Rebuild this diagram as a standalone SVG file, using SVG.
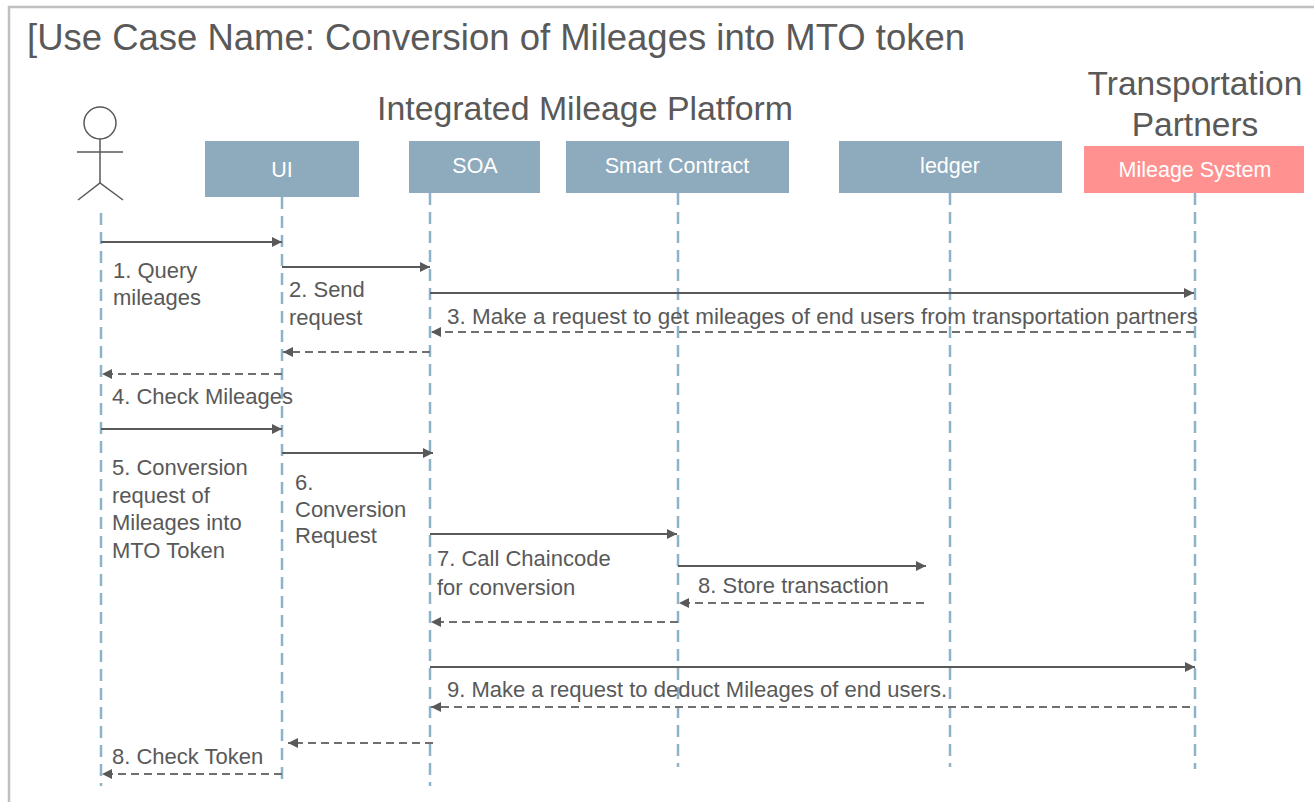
<svg xmlns="http://www.w3.org/2000/svg" width="1314" height="802" viewBox="0 0 1314 802">
<defs>
<style>
.t{font-family:"Liberation Sans",Arial,sans-serif;fill:#595959}
.lbl{font-size:22px}
.box{fill:#8EAABD}
.boxr{fill:#FF9191}
.bt{font-family:"Liberation Sans",Arial,sans-serif;font-size:21.5px;fill:#ffffff;text-anchor:middle}
.life{stroke:#8DB3C9;stroke-width:2.5;stroke-dasharray:12 7;fill:none}
.msg{stroke:#595959;stroke-width:2;fill:none;marker-end:url(#ah)}
.ret{stroke:#6f6f6f;stroke-width:2;stroke-dasharray:8 5;fill:none;marker-end:url(#ah)}
</style>
<marker id="ah" viewBox="0 0 10 10" refX="10" refY="5" markerWidth="11" markerHeight="10" markerUnits="userSpaceOnUse" orient="auto">
<path d="M0,0 L10,5 L0,10 z" fill="#595959"/>
</marker>
</defs>
<rect x="0" y="0" width="1314" height="802" fill="#ffffff"/>
<rect x="9" y="7" width="1330" height="820" fill="none" stroke="#c0c0c0" stroke-width="2.5"/>
<text class="t" x="27" y="50" font-size="36.5" textLength="938" lengthAdjust="spacingAndGlyphs">[Use Case Name: Conversion of Mileages into MTO token</text>
<text class="t" x="377" y="120" font-size="33.5" textLength="416" lengthAdjust="spacingAndGlyphs">Integrated Mileage Platform</text>
<text class="t" x="1195" y="95" font-size="33.5" text-anchor="middle">Transportation</text>
<text class="t" x="1195" y="136" font-size="33.5" text-anchor="middle">Partners</text>

<g id="actor">
<circle cx="100" cy="123" r="16" fill="none" stroke="#595959" stroke-width="1.5"/>
<line x1="100" y1="139" x2="100" y2="183" stroke="#595959" stroke-width="1.5"/>
<line x1="77" y1="152" x2="123" y2="152" stroke="#595959" stroke-width="1.5"/>
<path d="M78,200 L100,183 L123,200" fill="none" stroke="#595959" stroke-width="1.5"/>
<line class="life" x1="101" y1="213" x2="101" y2="786"/>
</g>
<g id="ui">
<rect class="box" x="205" y="141" width="154" height="56"/>
<text class="bt" x="282" y="177">UI</text>
<line class="life" x1="282" y1="197" x2="282" y2="786"/>
</g>
<g id="soa">
<rect class="box" x="409" y="141" width="131" height="52"/>
<text class="bt" x="475" y="173">SOA</text>
<line class="life" x1="430" y1="193" x2="430" y2="786"/>
</g>
<g id="smart-contract">
<rect class="box" x="566" y="141" width="223" height="52"/>
<text class="bt" x="677" y="173">Smart Contract</text>
<line class="life" x1="678" y1="193" x2="678" y2="767"/>
</g>
<g id="ledger">
<rect class="box" x="839" y="141" width="223" height="52"/>
<text class="bt" x="950" y="173">ledger</text>
<line class="life" x1="950" y1="193" x2="950" y2="767"/>
</g>
<g id="mileage-system">
<rect class="boxr" x="1084" y="146" width="220" height="47"/>
<text class="bt" x="1195" y="177">Mileage System</text>
<line class="life" x1="1195" y1="193" x2="1195" y2="769"/>
</g>

<g id="connectors">
<line class="msg" x1="101" y1="242" x2="282" y2="242"/>
<line class="msg" x1="282" y1="267" x2="430" y2="267"/>
<line class="msg" x1="430" y1="293" x2="1194" y2="293"/>
<line class="ret" x1="1194" y1="332" x2="431" y2="332"/>
<line class="ret" x1="430" y1="352" x2="283" y2="352"/>
<line class="ret" x1="282" y1="374" x2="102" y2="374"/>
<line class="msg" x1="101" y1="429" x2="282" y2="429"/>
<line class="msg" x1="282" y1="453" x2="433" y2="453"/>
<line class="msg" x1="430" y1="534" x2="677" y2="534"/>
<line class="msg" x1="678" y1="566" x2="926" y2="566"/>
<line class="ret" x1="924" y1="603" x2="679" y2="603"/>
<line class="ret" x1="678" y1="622" x2="431" y2="622"/>
<line class="msg" x1="430" y1="667" x2="1195" y2="667"/>
<line class="ret" x1="1190" y1="707" x2="431" y2="707"/>
<line class="ret" x1="433" y1="743" x2="288" y2="743"/>
<line class="ret" x1="282" y1="774" x2="102" y2="774"/>
</g>

<g id="labels" class="t lbl">
<text x="113" y="278">1. Query</text>
<text x="113" y="305">mileages</text>
<text x="289" y="297">2. Send</text>
<text x="289" y="325">request</text>
<text x="447" y="324" textLength="751" lengthAdjust="spacingAndGlyphs">3. Make a request to get mileages of end users from transportation partners</text>
<text x="112" y="404">4. Check Mileages</text>
<text x="112" y="475">5. Conversion</text>
<text x="112" y="503">request of</text>
<text x="112" y="530">Mileages into</text>
<text x="112" y="558">MTO Token</text>
<text x="295" y="490">6.</text>
<text x="295" y="517">Conversion</text>
<text x="295" y="543">Request</text>
<text x="437" y="566">7. Call Chaincode</text>
<text x="437" y="595">for conversion</text>
<text x="698" y="593">8. Store transaction</text>
<text x="447" y="697">9. Make a request to deduct Mileages of end users.</text>
<text x="112" y="764">8. Check Token</text>
</g>
</svg>
